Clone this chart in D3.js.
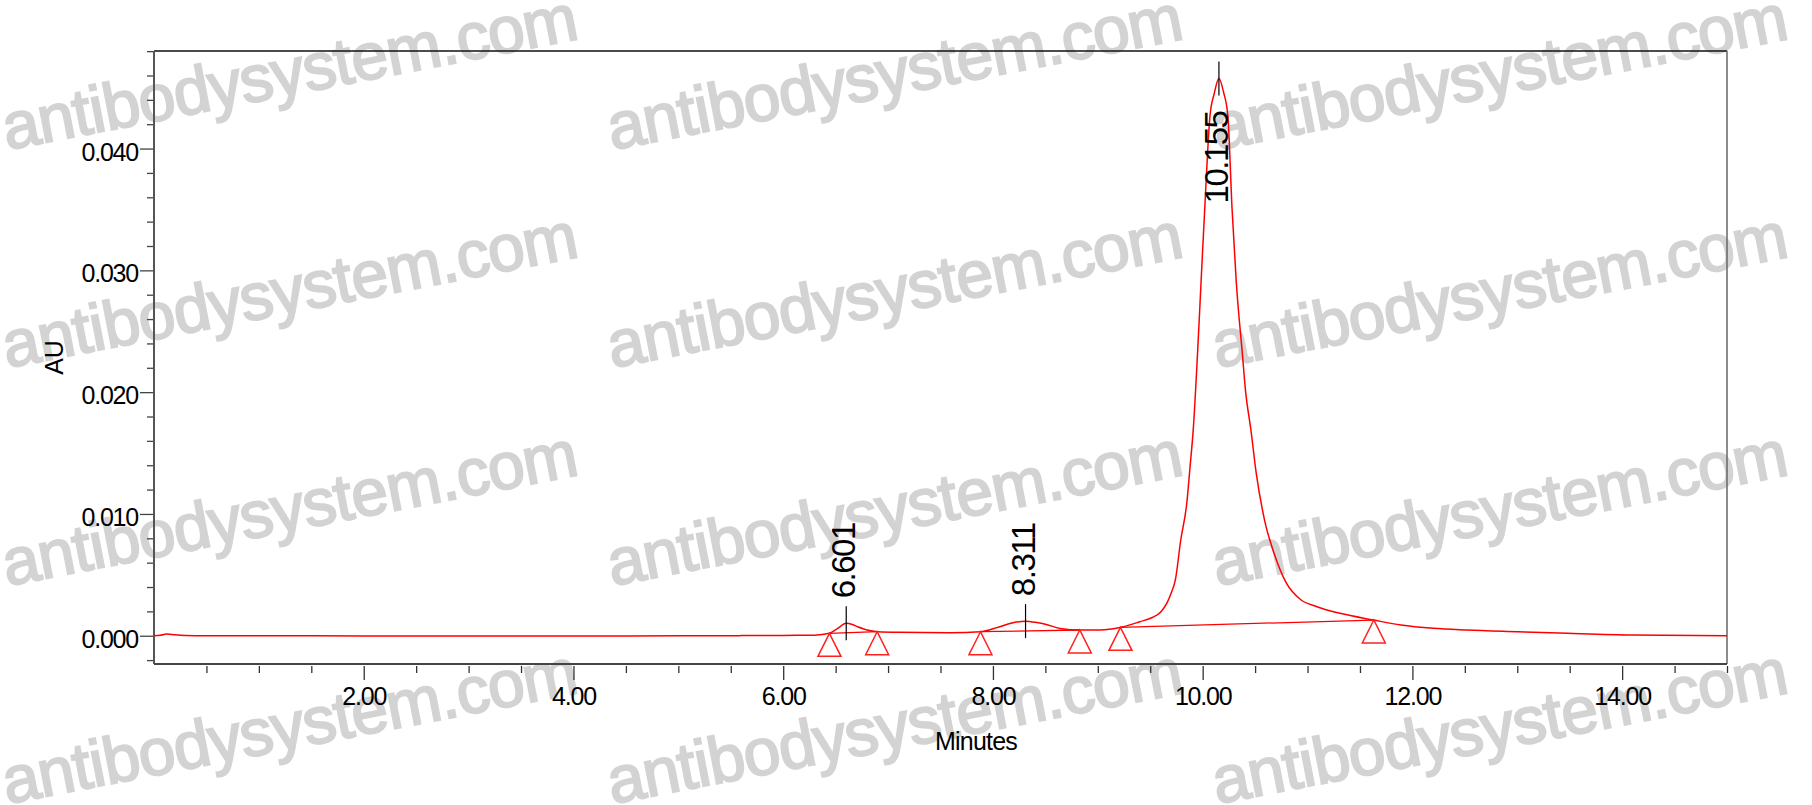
<!DOCTYPE html>
<html>
<head>
<meta charset="utf-8">
<script src="https://cdn.jsdelivr.net/npm/d3@7/dist/d3.min.js"></script>
<style>
  html, body { margin: 0; padding: 0; background: #fff; }
  svg { display: block; font-family: "Liberation Sans", Arial, sans-serif; }
</style>
</head>
<body>
<svg id="chart" width="1812" height="805"></svg>
<script>
// chromatogram trace (minutes, AU)
const time = [0.00, 0.06, 0.12, 0.20, 0.30, 0.50, 1.00, 1.50, 2.00, 3.00, 4.00, 5.00, 5.60, 6.00, 6.30,
  6.44, 6.52, 6.60, 6.66, 6.71, 6.80, 6.90, 7.10, 7.60, 7.88, 8.05, 8.20, 8.31, 8.42, 8.50, 8.64, 8.83,
  9.02, 9.22, 9.40, 9.52, 9.60, 9.66, 9.70, 9.74, 9.79, 9.85, 9.88, 9.91, 9.95, 9.985, 10.02, 10.07,
  10.11, 10.155, 10.20, 10.24, 10.28, 10.32, 10.38, 10.41, 10.46, 10.51, 10.59, 10.68, 10.80, 10.93,
  11.09, 11.31, 11.63, 11.89, 12.20, 12.52, 13.00, 13.48, 14.10, 15.00]
const au = [0.00000, 0.00004, 0.00014, 0.00008, 0.00003, 0.00000, 0.00000, -0.00001, -0.00002, -0.00002,
  -0.00002, -0.00001, 0.00001, 0.00003, 0.00005,
  0.00020, 0.00060, 0.00102, 0.00092, 0.00074, 0.00047, 0.00033, 0.00028, 0.00025, 0.00033, 0.00070,
  0.00108, 0.00120, 0.00108, 0.00094, 0.00060, 0.00047,
  0.00047, 0.00069, 0.00115, 0.00150, 0.00195, 0.00270, 0.00350, 0.00460, 0.00780, 0.01100, 0.01390,
  0.01690, 0.02300, 0.02910, 0.03510, 0.04270,
  0.04450, 0.04575, 0.04460, 0.04270, 0.03510, 0.02910, 0.02300, 0.02000, 0.01690, 0.01340, 0.00950,
  0.00680, 0.00430, 0.00300,
  0.00238, 0.00184, 0.00129, 0.00088, 0.00061, 0.00047, 0.00033, 0.00020, 0.00006, 0.00000]

// integrated peaks
const peakRT = [6.601, 8.311, 10.155]
const peakAU = [0.00102, 0.00120, 0.04575]
const peakStart = [6.441, 7.881, 9.216]
const peakStartAU = [0.00020, 0.00033, 0.00069]
const peakEnd = [6.896, 8.828, 11.632]
const peakEndAU = [0.00033, 0.00047, 0.00129]

// axes
const xTicks = [2, 4, 6, 8, 10, 12, 14]
const yTicks = [0, 0.01, 0.02, 0.03, 0.04]
const xDomain = [0, 15]
const yDomain = [-0.00232, 0.04801]

const width = 1812
const height = 805
const margin = { top: 51, right: 85, bottom: 141, left: 154 }
const fontFamily = '"Liberation Sans", Arial, sans-serif'

const svg = d3.select('#chart')

// 水印
const mark = svg.append('g').attr('class', 'watermark')
for (let r = 0; r < 4; r++) {
  for (let c = 0; c < 3; c++) {
    const x = 7 + c * 605
    const y = 150 + r * 218
    mark.append('text')
      .attr('transform', `translate(${x},${y}) rotate(-11)`)
      .attr('font-size', 66)
      .attr('fill', '#d3d3d3')
      .attr('stroke', '#d3d3d3')
      .attr('stroke-width', 2)
      .attr('letter-spacing', -1)
      .text('antibodysystem.com')
  }
}

const x = d3.scaleLinear()
  .domain(xDomain)
  .range([margin.left, width - margin.right])
const y = d3.scaleLinear()
  .domain(yDomain)
  .range([height - margin.bottom, margin.top])

const plotTop = margin.top
const plotBottom = height - margin.bottom
const plotLeft = margin.left
const plotRight = width - margin.right

// x axis ticks (minor + major), a little gap under the axis line
const xMinor = d3.range(0.5, 15.001, 0.5).filter(v => xTicks.indexOf(v) < 0)
svg.append('g')
  .attr('transform', `translate(0,${plotBottom + 2})`)
  .call(d3.axisBottom(x).tickValues(xMinor).tickSize(7).tickFormat(''))
  .call(g => g.select('.domain').remove())
  .call(g => g.selectAll('line').attr('stroke', '#333').attr('stroke-width', 1.3))
const xAxis = svg.append('g')
  .attr('transform', `translate(0,${plotBottom + 2})`)
  .call(d3.axisBottom(x).tickValues(xTicks).tickSize(14).tickPadding(7).tickFormat(d3.format('.2f')))
xAxis.select('.domain').remove()
xAxis.selectAll('line').attr('stroke', '#333').attr('stroke-width', 1.3)
xAxis.selectAll('text')
  .attr('font-size', 25)
  .attr('font-family', fontFamily)
  .attr('letter-spacing', -1.2)
  .attr('fill', '#000')

// y axis ticks
const yMinor = d3.range(-2, 49, 2).map(v => v / 1000).filter(v => !yTicks.some(t => Math.abs(t - v) < 1e-9))
svg.append('g')
  .attr('transform', `translate(${plotLeft},0)`)
  .call(d3.axisLeft(y).tickValues(yMinor).tickSize(7).tickFormat(''))
  .call(g => g.select('.domain').remove())
  .call(g => g.selectAll('line').attr('stroke', '#444').attr('stroke-width', 1.3))
const yAxis = svg.append('g')
  .attr('transform', `translate(${plotLeft},0)`)
  .call(d3.axisLeft(y).tickValues(yTicks).tickSize(14).tickPadding(2).tickFormat(d3.format('.3f')))
yAxis.select('.domain').remove()
yAxis.selectAll('line').attr('stroke', '#444').attr('stroke-width', 1.3)
yAxis.selectAll('text')
  .attr('font-size', 25)
  .attr('font-family', fontFamily)
  .attr('letter-spacing', -1.2)
  .attr('dy', '0.46em')
  .attr('fill', '#000')

// frame
svg.append('line')
  .attr('x1', plotLeft).attr('x2', plotRight).attr('y1', plotTop).attr('y2', plotTop)
  .attr('stroke', '#111').attr('stroke-width', 1.5)
svg.append('line')
  .attr('x1', plotRight).attr('x2', plotRight).attr('y1', plotTop).attr('y2', plotBottom)
  .attr('stroke', '#666').attr('stroke-width', 1.5)
svg.append('line')
  .attr('x1', plotLeft).attr('x2', plotLeft).attr('y1', plotTop).attr('y2', plotBottom)
  .attr('stroke', '#555').attr('stroke-width', 2)
svg.append('line')
  .attr('x1', plotLeft).attr('x2', plotRight).attr('y1', plotBottom).attr('y2', plotBottom)
  .attr('stroke', '#444').attr('stroke-width', 2)

// axis titles
svg.append('text')
  .attr('x', 976).attr('y', 750)
  .attr('text-anchor', 'middle')
  .attr('font-size', 25)
  .attr('letter-spacing', -0.8)
  .text('Minutes')
svg.append('text')
  .attr('transform', `translate(63,${(plotTop + plotBottom) / 2}) rotate(-90)`)
  .attr('text-anchor', 'middle')
  .attr('font-size', 25)
  .text('AU')

// trace
const trace = time.map((t, i) => [t, au[i]])
const line = d3.line()
  .x(d => x(d[0]))
  .y(d => y(d[1]))
  .curve(d3.curveMonotoneX)
svg.append('path')
  .datum(trace)
  .attr('fill', 'none')
  .attr('stroke', '#ff0000')
  .attr('stroke-width', 1.5)
  .attr('d', line)

// integration baselines and markers
const tri = 23
peakRT.forEach((rt, i) => {
  const x0 = x(peakStart[i])
  const y0 = y(peakStartAU[i])
  const x1 = x(peakEnd[i])
  const y1 = y(peakEndAU[i])
  svg.append('line')
    .attr('x1', x0).attr('y1', y0).attr('x2', x1).attr('y2', y1)
    .attr('stroke', '#ff0000').attr('stroke-width', 1.3)
  ;[[x0, y0], [x1, y1]].forEach(p => {
    svg.append('path')
      .attr('d', `M${p[0]},${p[1]} L${p[0] - tri / 2},${p[1] + tri} L${p[0] + tri / 2},${p[1] + tri} Z`)
      .attr('fill', 'none')
      .attr('stroke', '#ff2020')
      .attr('stroke-width', 1.5)
  })
})

// peak labels
peakRT.forEach((rt, i) => {
  const px = x(rt)
  const py = y(peakAU[i])
  svg.append('line')
    .attr('x1', px).attr('x2', px)
    .attr('y1', py - 17).attr('y2', py + 17)
    .attr('stroke', '#000').attr('stroke-width', 1.2)
  const label = svg.append('text')
    .attr('font-size', 33)
    .attr('letter-spacing', -1.5)
    .attr('fill', '#000')
    .text(d3.format('.3f')(rt))
  const len = label.node().getComputedTextLength()
  if (py - 25 - len < plotTop) {
    // no room above: put it under the tick
    label.attr('text-anchor', 'end')
      .attr('transform', `translate(${px + 9},${py + 33}) rotate(-90)`)
  } else {
    label.attr('text-anchor', 'start')
      .attr('transform', `translate(${px + 9},${py - 25}) rotate(-90)`)
  }
})
</script>
</body>
</html>
